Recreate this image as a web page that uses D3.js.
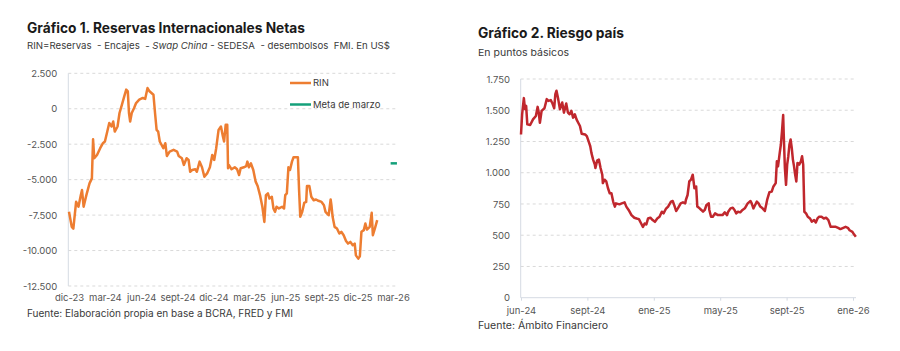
<!DOCTYPE html>
<html><head><meta charset="utf-8">
<script src="https://cdn.jsdelivr.net/npm/d3@7"></script>
<style>
body{margin:0;background:#fff}
svg{font-family:Inter,"Open Sans",sans-serif}
text{white-space:pre}
</style>
</head><body>
<svg id="c" width="900" height="351"></svg>
<script>
// ---------- Gráfico 1 data ----------
const rinDates = ["2023-12-01","2023-12-08","2023-12-12","2023-12-19","2023-12-25","2023-12-31","2024-01-03","2024-01-07","2024-01-14","2024-01-22","2024-01-28","2024-01-31","2024-02-03","2024-02-10","2024-02-18","2024-02-25","2024-03-01","2024-03-07","2024-03-12","2024-03-18","2024-03-22","2024-03-26","2024-04-02","2024-04-07","2024-04-13","2024-04-19","2024-04-24","2024-04-28","2024-05-01","2024-05-04","2024-05-08","2024-05-14","2024-05-19","2024-05-27","2024-06-05","2024-06-11","2024-06-17","2024-06-22","2024-07-02","2024-07-06","2024-07-10","2024-07-14","2024-07-18","2024-07-27","2024-08-01","2024-08-05","2024-08-12","2024-08-22","2024-08-31","2024-09-04","2024-09-12","2024-09-17","2024-09-24","2024-09-29","2024-10-03","2024-10-08","2024-10-16","2024-10-20","2024-10-27","2024-11-02","2024-11-08","2024-11-15","2024-11-22","2024-11-28","2024-12-03","2024-12-08","2024-12-14","2024-12-20","2024-12-25","2024-12-28","2025-01-01","2025-01-05","2025-01-07","2025-01-09","2025-01-16","2025-01-24","2025-01-30","2025-02-04","2025-02-08","2025-02-16","2025-02-22","2025-02-25","2025-03-01","2025-03-06","2025-03-12","2025-03-18","2025-03-23","2025-03-29","2025-04-04","2025-04-09","2025-04-13","2025-04-18","2025-04-22","2025-04-28","2025-05-02","2025-05-06","2025-05-10","2025-05-16","2025-05-24","2025-05-29","2025-06-01","2025-06-05","2025-06-09","2025-06-13","2025-06-18","2025-06-22","2025-07-03","2025-07-06","2025-07-09","2025-07-14","2025-07-19","2025-07-24","2025-07-26","2025-08-01","2025-08-06","2025-08-12","2025-08-18","2025-08-24","2025-09-01","2025-09-07","2025-09-11","2025-09-15","2025-09-19","2025-09-24","2025-09-26","2025-09-29","2025-10-04","2025-10-10","2025-10-16","2025-10-21","2025-10-27","2025-11-02","2025-11-07","2025-11-13","2025-11-19","2025-11-24","2025-11-27","2025-12-03","2025-12-07","2025-12-11","2025-12-17","2025-12-21","2025-12-25","2026-01-01","2026-01-06","2026-01-09","2026-01-14","2026-01-20"];
const rinValues = [-7270,-8330,-8450,-6560,-6910,-6090,-5730,-6910,-6090,-5260,-4910,-2150,-3490,-3260,-2780,-2430,-2310,-1600,-1010,-1250,-900,-1610,-1250,-300,280,870,1350,1230,-300,-900,-300,50,400,640,760,690,1460,1230,990,-300,-1490,-1610,-2310,-2780,-2430,-3330,-3020,-2900,-3020,-3330,-3490,-3960,-3490,-3610,-4440,-4320,-4270,-4440,-3730,-4130,-4790,-4560,-4130,-3260,-3610,-2780,-1490,-1250,-1960,-2310,-1130,-1130,-4200,-3960,-4270,-4130,-4270,-4670,-4200,-4130,-4040,-3730,-4130,-3850,-4320,-5140,-5450,-6090,-6910,-7980,-6090,-5970,-6330,-6210,-7030,-7270,-6910,-7030,-6910,-7030,-6090,-5970,-4130,-4320,-3730,-3420,-3420,-5730,-7620,-7270,-6640,-6570,-5450,-5450,-6210,-6450,-6400,-6490,-6570,-6800,-7270,-7390,-7510,-6400,-6800,-7620,-8330,-8450,-8800,-8680,-8920,-9320,-9510,-9390,-9630,-9510,-10340,-10570,-10410,-8680,-8560,-8090,-8520,-8330,-7340,-8920,-8450,-7860];
const metaDates = ["2026-02-23","2026-03-11"];
const metaValues = [-3850,-3850];
const y1Ticks = [2500,0,-2500,-5000,-7500,-10000,-12500];
const x1TickDates = ["2023-12-01","2024-03-01","2024-06-01","2024-09-01","2024-12-01","2025-03-01","2025-06-01","2025-09-01","2025-12-01","2026-03-01"];
const x1TickLabels = ["dic-23","mar-24","jun-24","sept-24","dic-24","mar-25","jun-25","sept-25","dic-25","mar-26"];
const legend1Labels = ["RIN","Meta de marzo"];

// ---------- Gráfico 2 data ----------
const riesgoDates = ["2024-06-01","2024-06-03","2024-06-06","2024-06-08","2024-06-10","2024-06-12","2024-06-17","2024-06-22","2024-06-27","2024-06-30","2024-07-02","2024-07-04","2024-07-07","2024-07-12","2024-07-16","2024-07-19","2024-07-23","2024-07-26","2024-07-29","2024-07-31","2024-08-02","2024-08-05","2024-08-08","2024-08-12","2024-08-15","2024-08-19","2024-08-22","2024-08-25","2024-08-28","2024-08-31","2024-09-03","2024-09-06","2024-09-09","2024-09-12","2024-09-15","2024-09-21","2024-09-24","2024-09-27","2024-09-30","2024-10-02","2024-10-05","2024-10-08","2024-10-09","2024-10-12","2024-10-15","2024-10-18","2024-10-21","2024-10-22","2024-10-25","2024-10-28","2024-10-31","2024-11-03","2024-11-06","2024-11-09","2024-11-12","2024-11-14","2024-11-20","2024-11-24","2024-11-29","2024-12-02","2024-12-06","2024-12-11","2024-12-16","2024-12-20","2024-12-24","2024-12-27","2024-12-31","2025-01-03","2025-01-06","2025-01-09","2025-01-13","2025-01-17","2025-01-21","2025-01-25","2025-01-29","2025-02-02","2025-02-05","2025-02-09","2025-02-13","2025-02-18","2025-02-21","2025-02-24","2025-02-27","2025-03-02","2025-03-07","2025-03-11","2025-03-15","2025-03-16","2025-03-19","2025-03-22","2025-03-25","2025-03-28","2025-03-31","2025-04-03","2025-04-05","2025-04-09","2025-04-12","2025-04-15","2025-04-18","2025-04-21","2025-04-25","2025-04-26","2025-04-29","2025-05-02","2025-05-06","2025-05-11","2025-05-15","2025-05-19","2025-05-23","2025-05-27","2025-05-29","2025-06-02","2025-06-06","2025-06-09","2025-06-12","2025-06-15","2025-06-19","2025-06-23","2025-06-27","2025-07-02","2025-07-07","2025-07-09","2025-07-12","2025-07-15","2025-07-18","2025-07-21","2025-07-24","2025-07-28","2025-08-01","2025-08-05","2025-08-09","2025-08-13","2025-08-16","2025-08-20","2025-08-22","2025-08-24","2025-08-27","2025-08-29","2025-08-31","2025-09-02","2025-09-03","2025-09-05","2025-09-07","2025-09-09","2025-09-11","2025-09-13","2025-09-15","2025-09-17","2025-09-19","2025-09-21","2025-09-23","2025-09-25","2025-09-27","2025-09-30","2025-10-03","2025-10-05","2025-10-07","2025-10-09","2025-10-12","2025-10-15","2025-10-19","2025-10-22","2025-10-26","2025-10-29","2025-11-01","2025-11-04","2025-11-08","2025-11-12","2025-11-16","2025-11-20","2025-11-24","2025-11-29","2025-12-03","2025-12-07","2025-12-11","2025-12-16","2025-12-20","2025-12-24","2025-12-27","2026-01-01","2026-01-04","2026-01-07"];
const riesgoValues = [1306,1468,1597,1508,1535,1387,1382,1427,1454,1527,1481,1400,1495,1516,1589,1575,1581,1554,1516,1629,1656,1589,1508,1562,1481,1554,1481,1468,1495,1441,1468,1427,1400,1374,1312,1306,1293,1253,1212,1159,1105,1065,1038,1097,1105,1038,984,917,944,930,876,836,836,769,729,755,747,755,763,729,702,661,640,634,629,602,567,594,586,634,640,621,607,634,648,688,675,710,729,769,774,737,694,715,755,763,755,782,822,930,944,984,876,890,729,715,702,688,702,742,755,702,648,648,675,661,661,661,683,661,688,715,720,702,675,688,683,702,715,755,774,755,715,742,769,755,729,715,694,782,844,849,890,917,1091,1051,1159,1226,1333,1462,1306,1038,903,1065,1132,1226,1266,1199,1105,1051,984,930,1078,1065,1091,1132,1065,688,675,648,634,608,621,602,634,648,648,634,640,621,567,567,567,559,549,559,567,559,540,527,505,487];
const y2Ticks = [0,250,500,750,1000,1250,1500,1750];
const x2TickDates = ["2024-06-01","2024-09-25","2025-01-19","2025-05-15","2025-09-08","2026-01-02"];
const x2TickLabels = ["jun-24","sept-24","ene-25","may-25","sept-25","ene-26"];

// ---------- helpers ----------
const parse = d3.utcParse("%Y-%m-%d");
const loc = d3.formatLocale({decimal:",",thousands:".",grouping:[3],currency:["$",""],minus:"-"});
const fmt = loc.format(",");
const svg = d3.select("#c");
const TXT = "#3a3a3a", TICK = "#555555", GRID = "#d9d9d9", AX = "#d5dbe3";
const LW = 2.5;

function addText(x, y, str, size, weight, len, fill){
  return svg.append("text").attr("x", x).attr("y", y).attr("font-size", size)
    .attr("font-weight", weight).attr("fill", fill).attr("textLength", len)
    .attr("lengthAdjust","spacingAndGlyphs").text(str);
}

// ================= Chart 1 =================
{
  const x = d3.scaleUtc().domain([parse("2023-12-01"), parse("2026-03-01")]).range([69, 393]);
  const y = d3.scaleLinear().domain([-12500, 2500]).range([286, 73.3]);
  const gx0 = 68.3, gx1 = 397;

  svg.append("g").selectAll("line").data(y1Ticks).join("line")
    .attr("x1", gx0).attr("x2", gx1).attr("y1", d => y(d)).attr("y2", d => y(d))
    .attr("stroke", GRID).attr("stroke-width", 1).attr("stroke-dasharray", "3,3");
  svg.append("line").attr("x1", gx0).attr("x2", gx0).attr("y1", y(2500)).attr("y2", y(-12500))
    .attr("stroke", AX).attr("stroke-width", 1);

  const ya = svg.append("g").attr("transform", `translate(${gx0},0)`)
    .call(d3.axisLeft(y).tickValues(y1Ticks).tickFormat(fmt).tickSize(0).tickPadding(11));
  ya.select(".domain").remove();
  ya.selectAll("text").attr("font-size", 9.5).attr("fill", TICK).attr("font-family", "Inter");

  const xa = svg.append("g").attr("transform", `translate(0,286)`)
    .call(d3.axisBottom(x).tickValues(x1TickDates.map(parse)).tickFormat((d, i) => x1TickLabels[i]).tickSize(0).tickPadding(8.5));
  xa.select(".domain").remove();
  xa.selectAll("text").attr("font-size", 9.5).attr("fill", TICK).attr("font-family", "Inter");

  const data = rinDates.map((d, i) => ({d: parse(d), v: rinValues[i]}));
  svg.append("path").datum(data)
    .attr("d", d3.line().x(p => x(p.d)).y(p => y(p.v)))
    .attr("fill", "none").attr("stroke", "#ed7d31").attr("stroke-width", LW)
    .attr("stroke-linejoin", "round");

  const meta = metaDates.map((d, i) => ({d: parse(d), v: metaValues[i]}));
  svg.append("path").datum(meta)
    .attr("d", d3.line().x(p => x(p.d)).y(p => y(p.v)))
    .attr("fill", "none").attr("stroke", "#14a07a").attr("stroke-width", LW);

  // legend
  const lc = ["#ed7d31", "#14a07a"], ly = [83, 104.5];
  legend1Labels.forEach((t, i) => {
    svg.append("line").attr("x1", 290).attr("x2", 311).attr("y1", ly[i]).attr("y2", ly[i])
      .attr("stroke", lc[i]).attr("stroke-width", LW);
    svg.append("text").attr("x", 313).attr("y", ly[i] + 3.3).attr("font-size", 9.5)
      .attr("fill", TXT).text(t);
  });

  addText(27, 33, "Gráfico 1. Reservas Internacionales Netas", 14, 700, 278, "#1a1a1a");
  const st = svg.append("text").attr("x", 27).attr("y", 49.3).attr("font-size", 9.5)
    .attr("fill", TXT).attr("textLength", 363).attr("lengthAdjust", "spacingAndGlyphs");
  st.append("tspan").text("RIN=Reservas  - Encajes  - ");
  st.append("tspan").attr("font-style", "italic").text("Swap China");
  st.append("tspan").text(" - SEDESA  - desembolsos  FMI. En US$");
  addText(27, 317.3, "Fuente: Elaboración propia en base a BCRA, FRED y FMI", 10, 400, 266, TXT);
}

// ================= Chart 2 =================
{
  const x = d3.scaleUtc().domain([parse(x2TickDates[0]), parse(x2TickDates[x2TickDates.length - 1])]).range([521, 853]);
  const y = d3.scaleLinear().domain([0, 1750]).range([297.7, 79]);
  const gx0 = 520.7, gx1 = 856;

  svg.append("g").selectAll("line").data(y2Ticks.filter(d => d > 0)).join("line")
    .attr("x1", gx0).attr("x2", gx1).attr("y1", d => y(d)).attr("y2", d => y(d))
    .attr("stroke", GRID).attr("stroke-width", 1).attr("stroke-dasharray", "3,3");
  svg.append("line").attr("x1", gx0).attr("x2", gx0).attr("y1", y(1750)).attr("y2", y(0))
    .attr("stroke", AX).attr("stroke-width", 1);

  const ya = svg.append("g").attr("transform", `translate(${gx0},0)`)
    .call(d3.axisLeft(y).tickValues(y2Ticks).tickFormat(fmt).tickSize(0).tickPadding(10.7));
  ya.select(".domain").remove();
  ya.selectAll("text").attr("font-size", 9.5).attr("fill", TICK).attr("font-family", "Inter");

  const xa = svg.append("g").attr("transform", `translate(0,${y(0)})`)
    .call(d3.axisBottom(x).tickValues(x2TickDates.map(parse)).tickFormat((d, i) => x2TickLabels[i]).tickSizeInner(3).tickSizeOuter(0).tickPadding(7));
  xa.select(".domain").attr("d", `M${gx0},0H${gx1}`).attr("stroke", AX);
  xa.selectAll(".tick line").attr("stroke", AX);
  xa.selectAll("text").attr("font-size", 9.5).attr("fill", TICK).attr("font-family", "Inter");

  const data = riesgoDates.map((d, i) => ({d: parse(d), v: riesgoValues[i]}));
  svg.append("path").datum(data)
    .attr("d", d3.line().x(p => x(p.d)).y(p => y(p.v)))
    .attr("fill", "none").attr("stroke", "#c0272d").attr("stroke-width", LW)
    .attr("stroke-linejoin", "round");

  addText(478, 38, "Gráfico 2. Riesgo país", 14, 700, 146, "#1a1a1a");
  addText(478, 55.5, "En puntos básicos", 9.5, 400, 91, TXT);
  addText(478, 329, "Fuente: Ámbito Financiero", 10, 400, 130, TXT);
}
</script>
</body></html>
